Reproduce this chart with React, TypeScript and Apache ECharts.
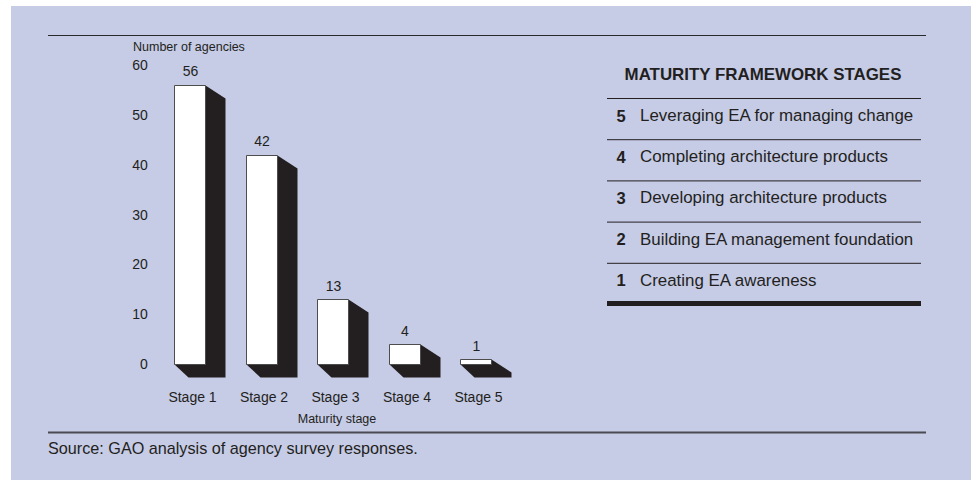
import React, { useEffect, useRef } from "react";
import * as echarts from "echarts";

const stageLabels = ["Stage 1", "Stage 2", "Stage 3", "Stage 4", "Stage 5"];
const agencyCounts = [56, 42, 13, 4, 1];
const yMin = 0;
const yMax = 60;
const yInterval = 10;

const frameworkTitle = "MATURITY FRAMEWORK STAGES";
const frameworkNumbers = ["5", "4", "3", "2", "1"];
const frameworkStages = [
  "Leveraging EA for managing change",
  "Completing architecture products",
  "Developing architecture products",
  "Building EA management foundation",
  "Creating EA awareness",
];

const yAxisTitle = "Number of agencies";
const xAxisTitle = "Maturity stage";
const sourceNote = "Source: GAO analysis of agency survey responses.";

const FONT = "'Liberation Sans', Arial, Helvetica, sans-serif";
const INK = "#231f20";
const BG = "#c6cbe6";

export default function App() {
  const ref = useRef<HTMLDivElement>(null);

  useEffect(() => {
    if (!ref.current) return;
    const chart = echarts.init(ref.current, undefined, { renderer: "svg" });

    const legendGraphics: any[] = [];
    const lineX1 = 607;
    const lineX2 = 921;
    legendGraphics.push({
      type: "text",
      x: 763,
      y: 74,
      style: {
        text: frameworkTitle,
        font: `bold 16.9px ${FONT}`,
        fill: INK,
        align: "center",
        verticalAlign: "middle",
      },
    });
    const rowStep = 41.2;
    frameworkStages.forEach((s, k) => {
      const lineY = 98 + k * rowStep;
      legendGraphics.push({
        type: "line",
        shape: { x1: lineX1, y1: lineY + 0.5, x2: lineX2, y2: lineY + 0.5 },
        style: { stroke: INK, lineWidth: 1 },
      });
      const ty = lineY + 17.5;
      legendGraphics.push({
        type: "text",
        x: 621,
        y: ty,
        style: {
          text: frameworkNumbers[k],
          font: `bold 16.5px ${FONT}`,
          fill: INK,
          align: "center",
          verticalAlign: "middle",
        },
      });
      legendGraphics.push({
        type: "text",
        x: 640,
        y: ty,
        style: {
          text: s,
          font: `16.9px ${FONT}`,
          fill: INK,
          align: "left",
          verticalAlign: "middle",
        },
      });
    });
    legendGraphics.push({
      type: "rect",
      shape: { x: lineX1, y: 301, width: lineX2 - lineX1, height: 5 },
      style: { fill: INK },
    });

    const option: any = {
      animation: false,
      backgroundColor: "#ffffff",
      textStyle: { fontFamily: FONT },
      grid: { left: 153.75, top: 65, width: 357.5, height: 299 },
      xAxis: {
        type: "category",
        data: stageLabels,
        axisLine: { show: false },
        axisTick: { show: false },
        axisLabel: {
          margin: 26,
          fontSize: 14,
          lineHeight: 14,
          color: INK,
          fontFamily: FONT,
          padding: [0, 0, 0, 6],
        },
        name: xAxisTitle,
        nameLocation: "middle",
        nameGap: 48,
        nameTextStyle: {
          fontSize: 12.5,
          color: INK,
          fontFamily: FONT,
          padding: [0, 0, 0, 9],
        },
      },
      yAxis: {
        type: "value",
        min: yMin,
        max: yMax,
        interval: yInterval,
        axisLine: { show: false },
        axisTick: { show: false },
        splitLine: { show: false },
        axisLabel: {
          margin: 6,
          fontSize: 14,
          color: INK,
          fontFamily: FONT,
          padding: [6, 0, 0, 0],
        },
      },
      graphic: [
        {
          type: "rect",
          z: -10,
          silent: true,
          shape: { x: 11, y: 6, width: 960, height: 474 },
          style: { fill: BG },
        },
        {
          type: "line",
          shape: { x1: 48, y1: 35.5, x2: 926, y2: 35.5 },
          style: { stroke: "#2a2a2a", lineWidth: 1 },
        },
        {
          type: "line",
          shape: { x1: 48, y1: 432.5, x2: 926, y2: 432.5 },
          style: { stroke: "#4a4a52", lineWidth: 2 },
        },
        {
          type: "text",
          x: 133,
          y: 47,
          style: {
            text: yAxisTitle,
            font: `12.5px ${FONT}`,
            fill: INK,
            align: "left",
            verticalAlign: "middle",
          },
        },
        {
          type: "text",
          x: 48,
          y: 448,
          style: {
            text: sourceNote,
            font: `16.2px ${FONT}`,
            fill: INK,
            align: "left",
            verticalAlign: "middle",
          },
        },
        ...legendGraphics,
      ],
      series: [
        {
          type: "custom",
          clip: false,
          data: agencyCounts.map((v, i) => [i, v]),
          renderItem: (params: any, api: any) => {
            const v = api.value(1);
            const top = api.coord([api.value(0), v]);
            const base = api.coord([api.value(0), 0]);
            const cx = top[0];
            const w = 31;
            const x0 = Math.round(cx - w / 2) + 0.5;
            const x1 = x0 + w;
            const yt = Math.round(top[1]) + 0.5;
            const yb = Math.round(base[1]) + 0.5;
            return {
              type: "group",
              children: [
                {
                  type: "polygon",
                  shape: {
                    points: [
                      [x0, yb],
                      [x0 + 14, yb + 13],
                      [x1 + 20, yb + 13],
                      [x1 + 20, yt + 13],
                      [x1, yt],
                    ],
                  },
                  style: { fill: INK },
                },
                {
                  type: "rect",
                  shape: { x: x0, y: yt, width: w, height: yb - yt },
                  style: { fill: "#ffffff", stroke: "#4d4d4d", lineWidth: 1 },
                },
                {
                  type: "text",
                  x: cx + 1,
                  y: top[1] - 13.5,
                  style: {
                    text: String(v),
                    font: `14px ${FONT}`,
                    fill: INK,
                    align: "center",
                    verticalAlign: "middle",
                  },
                },
              ],
            };
          },
        },
      ],
    };

    chart.setOption(option);
    return () => {
      chart.dispose();
    };
  }, []);

  return (
    <div
      ref={ref}
      style={{ position: "absolute", left: 0, top: 0, width: 976, height: 480 }}
    />
  );
}
